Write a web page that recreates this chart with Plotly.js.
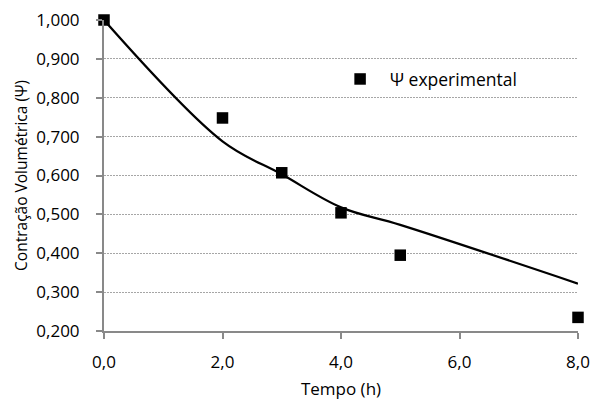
<!DOCTYPE html>
<html>
<head>
<meta charset="utf-8">
<script src="https://cdn.plot.ly/plotly-3.0.1.min.js"></script>
<style>html,body{margin:0;padding:0;background:#fff}#chart{width:591px;height:400px}</style>
</head>
<body>
<div id="chart"></div>
<script>
var tempoExp = [0, 2, 3, 4, 5, 8];
var psiExp = [1.000, 0.748, 0.607, 0.504, 0.395, 0.235];
var tempoModel = [0, 2, 3, 4, 5, 8];
var psiModel = [1.000, 0.688, 0.603, 0.518, 0.473, 0.322];
var expName = 'Ψ experimental';
var xTitle = 'Tempo (h)';
var yTitle = 'Contração Volumétrica (Ψ)';

var fam = '"Open Sans", sans-serif';
function f(s) { return {family: fam, size: s, color: '#000'}; }
var axisColor = '#898989';

var traces = [
  {x: tempoModel, y: psiModel, mode: 'lines', type: 'scatter', showlegend: false,
   line: {color: '#000', width: 2.25, shape: 'spline', smoothing: 1}, cliponaxis: false, hoverinfo: 'skip'},
  {x: tempoExp, y: psiExp, mode: 'markers', type: 'scatter', name: expName,
   marker: {symbol: 'square', size: 11.5, color: '#000'}, cliponaxis: false}
];

var layout = {
  width: 591, height: 400,
  margin: {l: 104, r: 13, t: 20, b: 69},
  paper_bgcolor: '#fff', plot_bgcolor: '#fff',
  font: f(16),
  separators: ',.',
  showlegend: true,
  legend: {x: 0.477, y: 0.81, xanchor: 'left', yanchor: 'middle', bgcolor: 'rgba(0,0,0,0)',
           font: f(17.5), itemwidth: 50},
  xaxis: {range: [0, 8], tickvals: [0, 2, 4, 6, 8], tickformat: '.1f',
          showgrid: false, zeroline: false, showline: true, linecolor: axisColor, linewidth: 2,
          ticks: 'outside', ticklen: 6, tickcolor: axisColor, tickwidth: 2, ticklabelstandoff: 9,
          tickfont: f(17), title: {text: xTitle, font: f(17), standoff: 12}},
  yaxis: {range: [0.2, 1.0], tickvals: [0.2, 0.3, 0.4, 0.5, 0.6, 0.7, 0.8, 0.9, 1.0], tickformat: '.3f',
          showgrid: true, gridcolor: '#a6a6a6', gridwidth: 1, griddash: '2px,1px',
          zeroline: false, showline: true, linecolor: axisColor, linewidth: 2,
          ticks: 'outside', ticklen: 6, tickcolor: axisColor, tickwidth: 2, ticklabelstandoff: 13,
          tickfont: f(17), title: {text: yTitle, font: f(15.5), standoff: 5}}
};

Plotly.newPlot('chart', traces, layout, {displayModeBar: false, staticPlot: true});
</script>
</body>
</html>
